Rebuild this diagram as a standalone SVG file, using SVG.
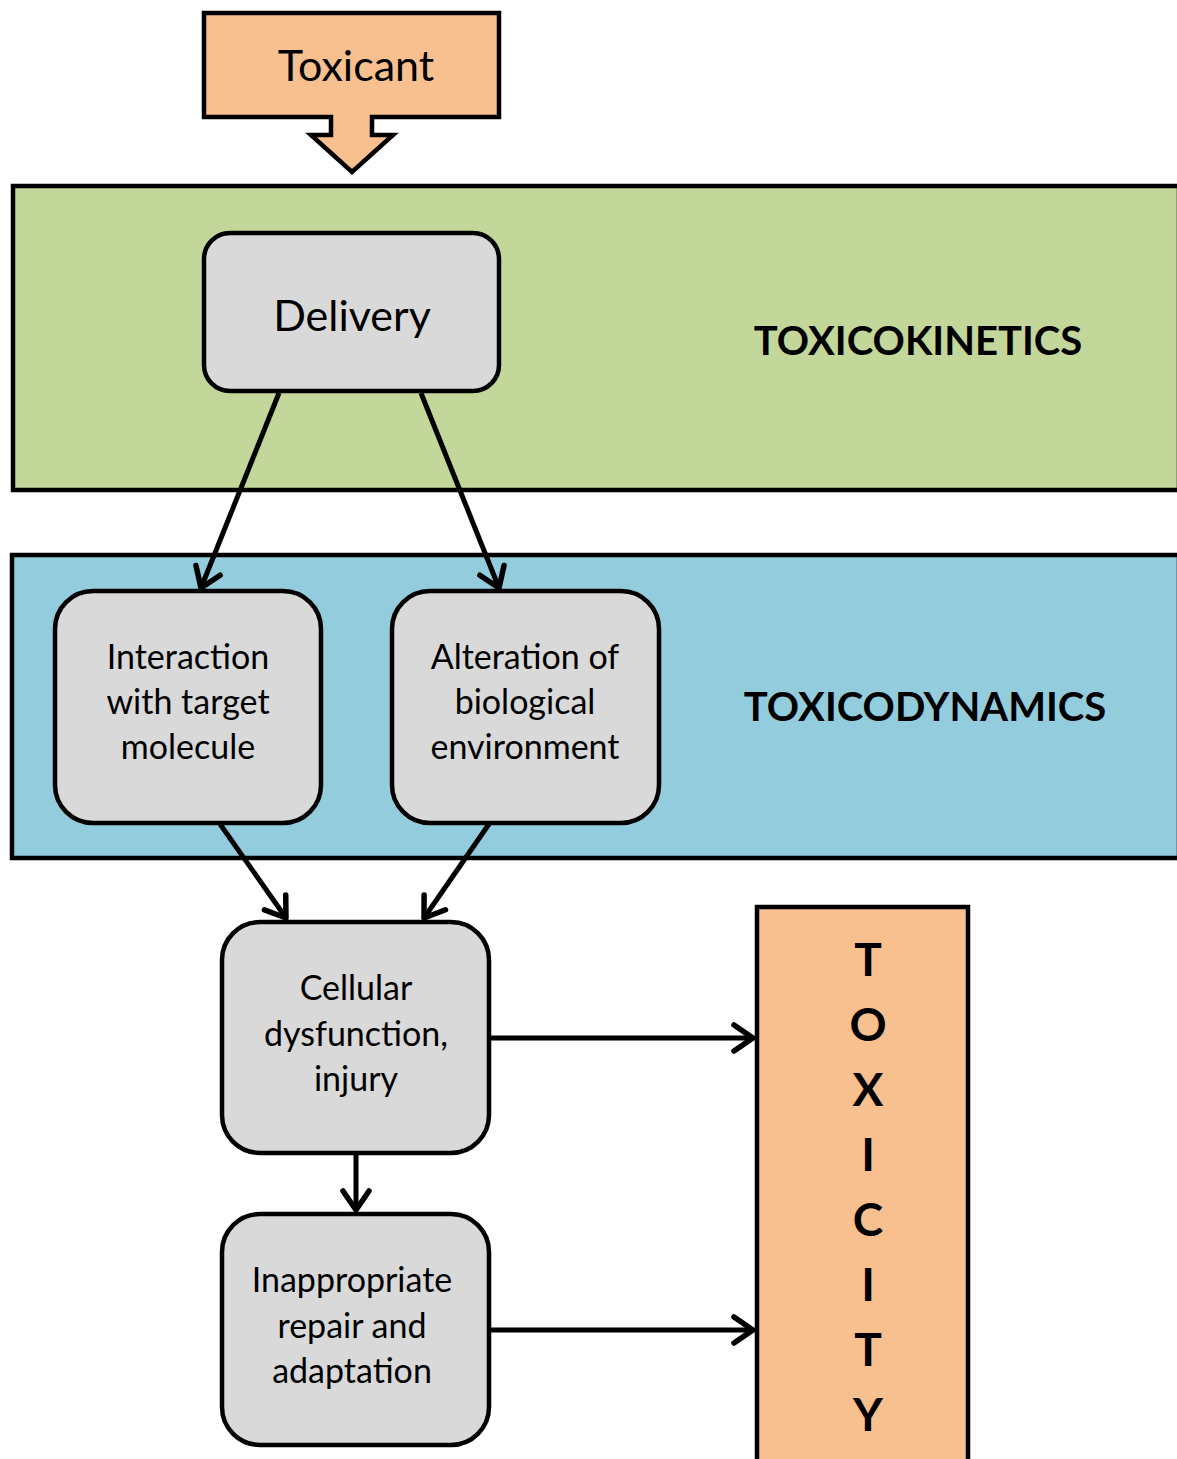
<svg xmlns="http://www.w3.org/2000/svg" width="1177" height="1459" viewBox="0 0 1177 1459">
<style>
.band{stroke:#000;stroke-width:4.5}
.node{fill:#d9d9d9;stroke:#000;stroke-width:4.5}
.orange{fill:#f8c08f;stroke:#000;stroke-width:4.5;stroke-linejoin:miter}
.t{font-family:Lato,"Liberation Sans",sans-serif;fill:#000;text-anchor:middle}
.lbl{font-size:34px}
.head{font-family:Lato,"Liberation Sans",sans-serif;font-weight:bold;font-size:40px;text-anchor:middle}
.tox{font-family:Lato,"Liberation Sans",sans-serif;font-weight:bold;font-size:46px;text-anchor:middle}
.conn{stroke:#000;stroke-width:5;fill:none;marker-end:url(#arr)}
</style>
<defs>
<marker id="arr" viewBox="-26 -18 30 36" refX="0" refY="0" markerWidth="30" markerHeight="36" markerUnits="userSpaceOnUse" orient="auto" overflow="visible">
<path d="M-19,-13 L0,0 L-19,13" fill="none" stroke="#000" stroke-width="5.5" stroke-linecap="round" stroke-linejoin="round"/>
</marker>
</defs>
<g id="toxicokinetics-band">
<rect class="band" x="13" y="186" width="1166" height="304" fill="#c4d79b"/>
<text class="head" x="918" y="355">TOXICOKINETICS</text>
</g>
<g id="toxicodynamics-band">
<rect class="band" x="12" y="555" width="1167" height="303" fill="#93cddd"/>
<text class="head" x="925" y="721">TOXICODYNAMICS</text>
</g>
<g id="toxicant">
<path class="orange" d="M204,13 H499 V117 H372 V135 H393 L352,172 L311,135 H331 V117 H204 Z"/>
<text class="t" x="356" y="81" font-size="43">Toxicant</text>
</g>
<g id="delivery">
<rect class="node" x="204" y="233" width="295" height="158" rx="26"/>
<text class="t" x="352" y="331" font-size="43">Delivery</text>
</g>
<g id="interaction">
<rect class="node" x="55" y="591" width="266" height="232" rx="38"/>
<text class="t lbl" x="188" y="669">Interaction</text>
<text class="t lbl" x="188" y="714">with target</text>
<text class="t lbl" x="188" y="759">molecule</text>
</g>
<g id="alteration">
<rect class="node" x="392" y="591" width="267" height="232" rx="38"/>
<text class="t lbl" x="525" y="669">Alteration of</text>
<text class="t lbl" x="525" y="714">biological</text>
<text class="t lbl" x="525" y="759">environment</text>
</g>
<g id="cellular">
<rect class="node" x="222" y="922" width="267" height="231" rx="38"/>
<text class="t lbl" x="356" y="1000">Cellular</text>
<text class="t lbl" x="356" y="1046">dysfunction,</text>
<text class="t lbl" x="356" y="1091">injury</text>
</g>
<g id="inappropriate">
<rect class="node" x="222" y="1214" width="267" height="231" rx="38"/>
<text class="t lbl" x="352" y="1292">Inappropriate</text>
<text class="t lbl" x="352" y="1338">repair and</text>
<text class="t lbl" x="352" y="1383">adaptation</text>
</g>
<g id="toxicity">
<rect class="orange" x="757" y="907" width="211" height="560"/>
<text class="tox" x="868" y="976">T</text>
<text class="tox" x="868" y="1041">O</text>
<text class="tox" x="868" y="1106">X</text>
<text class="tox" x="868" y="1171">I</text>
<text class="tox" x="868" y="1236">C</text>
<text class="tox" x="868" y="1301">I</text>
<text class="tox" x="868" y="1366">T</text>
<text class="tox" x="868" y="1431">Y</text>
</g>
<g id="connectors">
<path class="conn" d="M279,393 L201,588"/>
<path class="conn" d="M421,393 L499,588"/>
<path class="conn" d="M220,824 L286,918"/>
<path class="conn" d="M489,824 L424,918"/>
<path class="conn" d="M491,1038 L753,1038"/>
<path class="conn" d="M356,1155 L356,1210"/>
<path class="conn" d="M491,1330 L753,1330"/>
</g>
</svg>
